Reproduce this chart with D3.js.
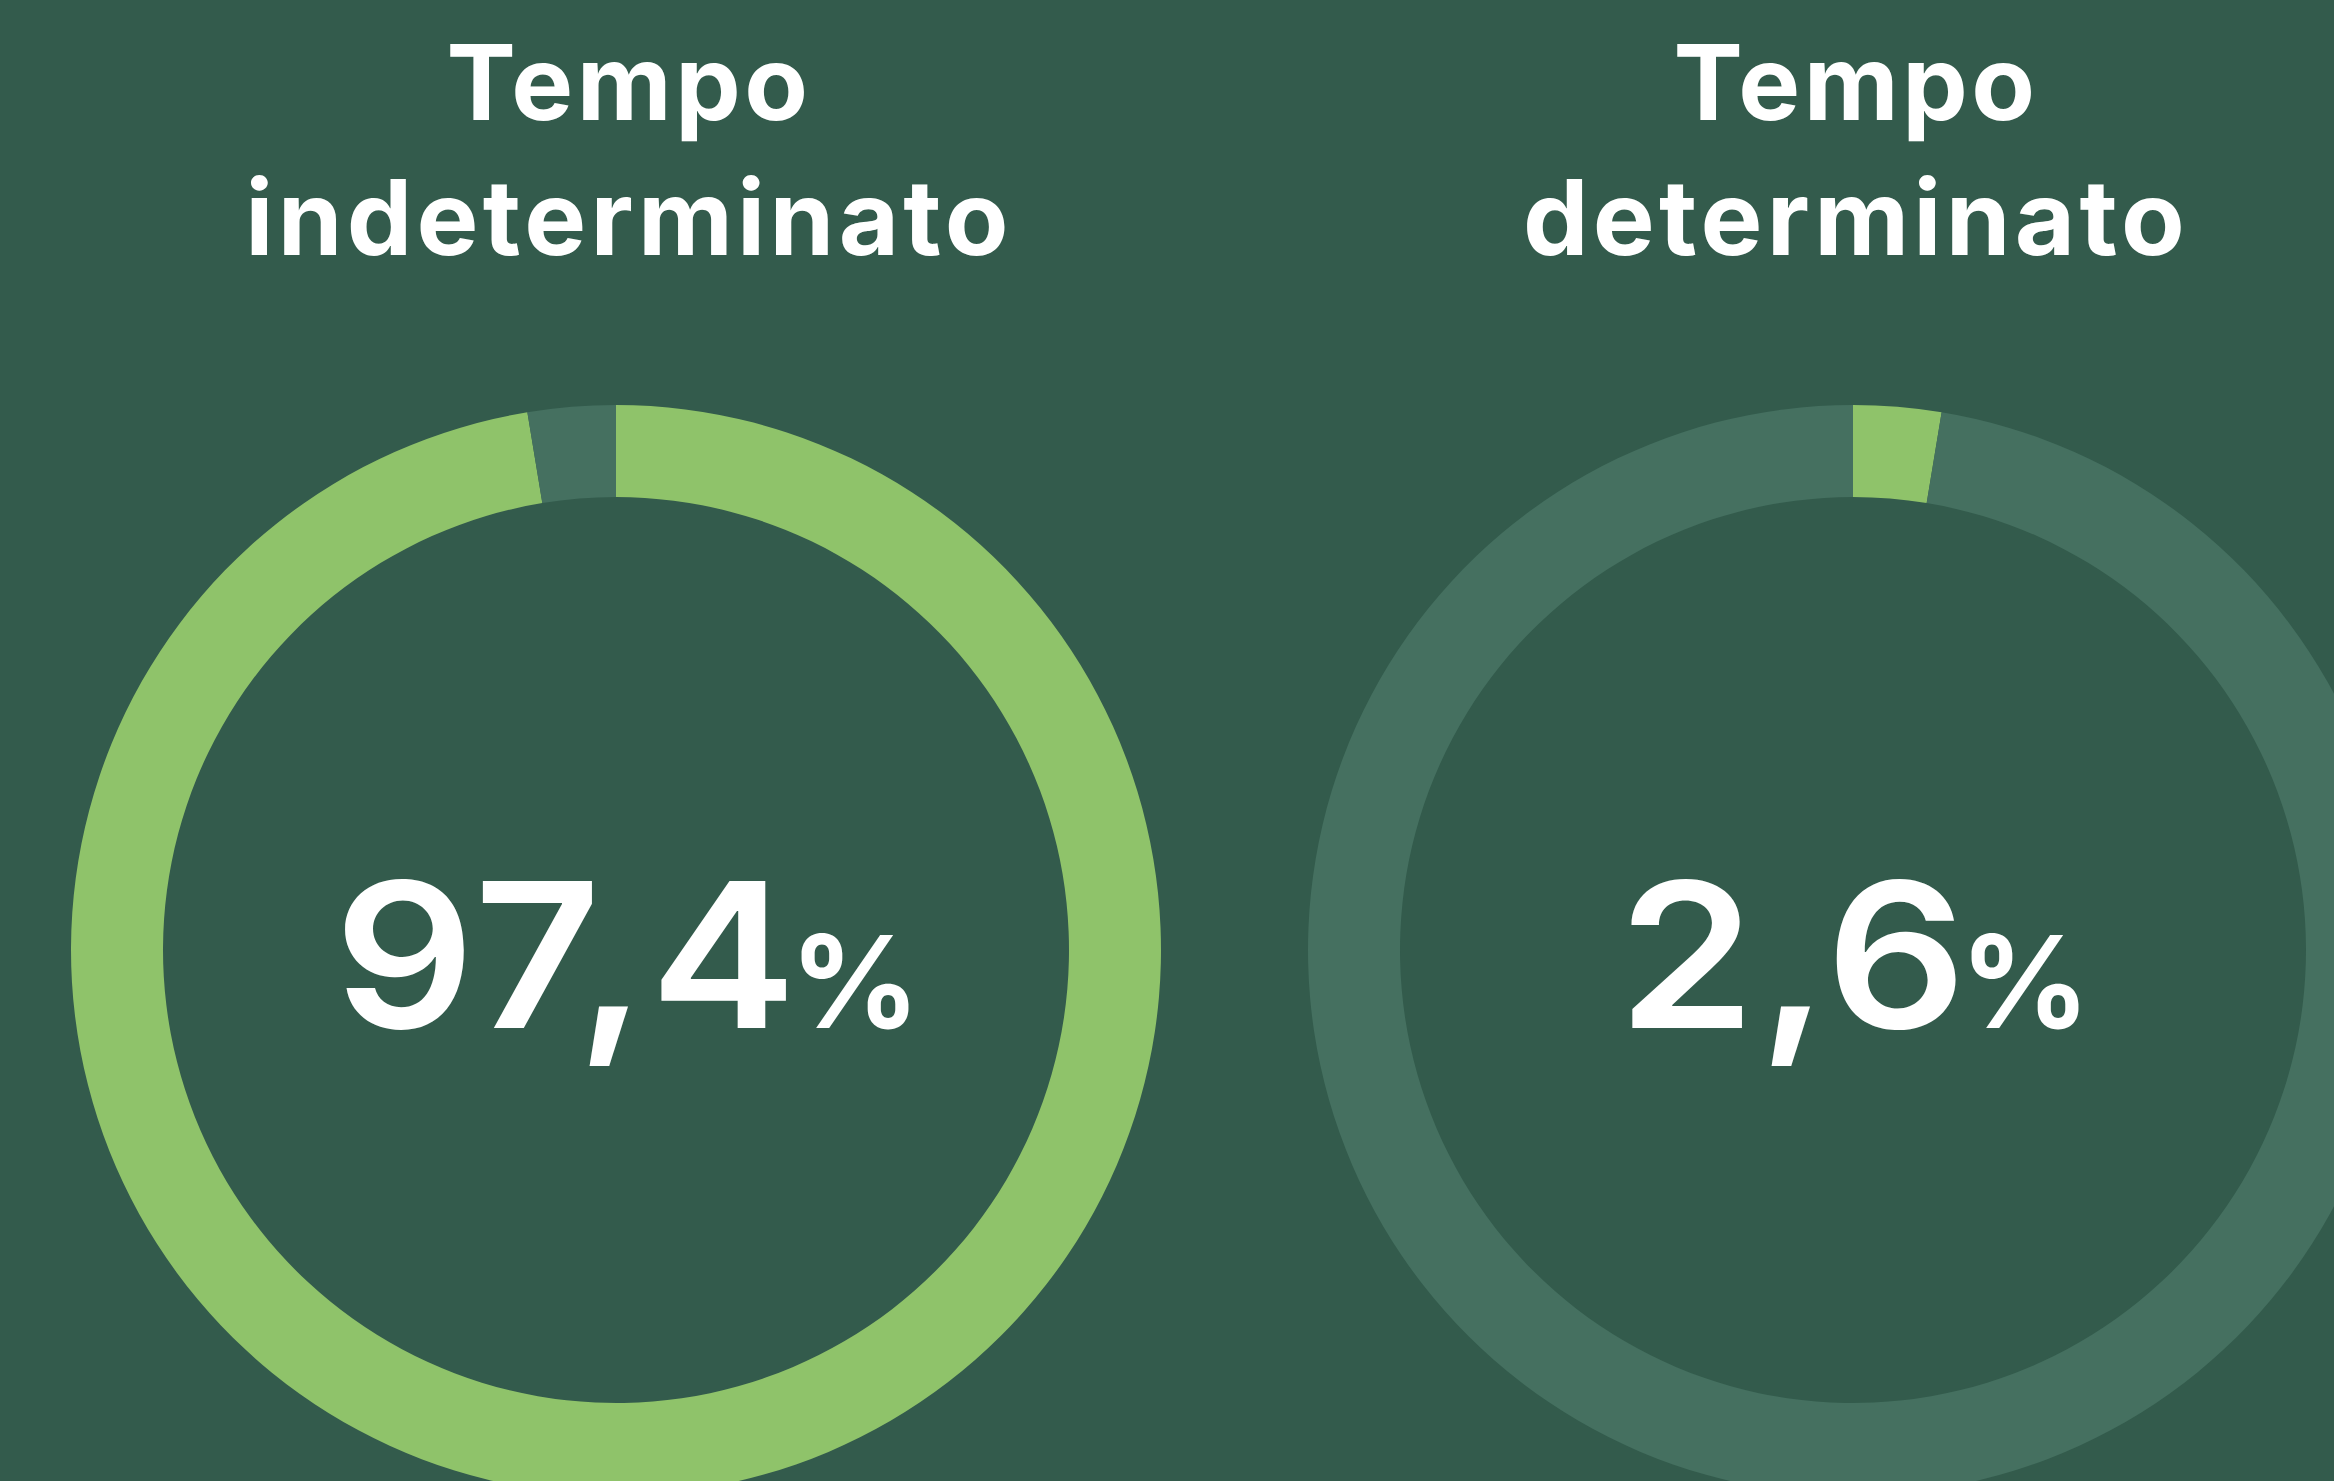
<!DOCTYPE html>
<html>
<head>
<meta charset="utf-8">
<script src="https://cdn.jsdelivr.net/npm/d3@7"></script>
<style>
  html, body { margin: 0; padding: 0; background: #335b4c; overflow: hidden; }
  svg { display: block; }
</style>
</head>
<body>
<svg id="chart" width="2334" height="1481"></svg>
<script>
const titleLine1 = ["Tempo", "Tempo"];
const titleLine2 = ["indeterminato", "determinato"];
const shares = [97.4, 2.6];
const valueLabels = ["97,4", "2,6"];
const segmentNames = ["valore", "resto"];

const W = 2334, H = 1481;
const bg = "#335b4c", green = "#8fc36a", ringGrey = "#457060";
const svg = d3.select("#chart");
svg.append("rect").attr("width", W).attr("height", H).attr("fill", bg);

const x = d3.scalePoint().domain(d3.range(shares.length)).range([616, 1853]);
const xText = d3.scalePoint().domain(d3.range(shares.length)).range([627, 1854]);
const cy = 950;
const rOuter = 545, rInner = 453;

const pie = d3.pie().sort(null).value(d => d.v).startAngle(0).endAngle(2 * Math.PI);
const arc = d3.arc().innerRadius(rInner).outerRadius(rOuter);

shares.forEach((s, i) => {
  const g = svg.append("g").attr("transform", `translate(${x(i)},${cy})`);
  const segs = [{ name: segmentNames[0], v: s }, { name: segmentNames[1], v: 100 - s }];
  g.selectAll("path").data(pie(segs)).join("path")
    .attr("d", arc)
    .attr("fill", (d, j) => j === 0 ? green : ringGrey);

  const tx = xText(i);
  const t = svg.append("text")
    .attr("text-anchor", "middle")
    .attr("font-family", "Inter").attr("font-weight", 700)
    .attr("font-size", 104).attr("fill", "#ffffff");
  t.append("tspan").attr("x", tx + 2).attr("y", 120).attr("letter-spacing", 3.5).text(titleLine1[i]);
  t.append("tspan").attr("x", tx + 2).attr("y", 255).attr("letter-spacing", 4.3).text(titleLine2[i]);

  // value label: wide digits + smaller percent sign
  const vg = svg.append("g");
  const sx = 1.09;
  const digits = vg.append("text")
    .attr("x", 0).attr("y", 0)
    .attr("font-family", "Inter").attr("font-weight", 600)
    .attr("font-size", 202).attr("letter-spacing", 3)
    .attr("fill", "#ffffff")
    .text(valueLabels[i]);
  const dw = digits.node().getComputedTextLength() * sx;
  digits.attr("transform", `scale(${sx},1)`);
  const pct = vg.append("text")
    .attr("x", dw - 10).attr("y", 0)
    .attr("font-family", "Inter").attr("font-weight", 700)
    .attr("font-size", 128)
    .attr("fill", "#ffffff")
    .text("%");
  const total = dw - 10 + pct.node().getComputedTextLength();
  vg.attr("transform", `translate(${tx - total / 2},1028)`);
});
</script>
</body>
</html>
